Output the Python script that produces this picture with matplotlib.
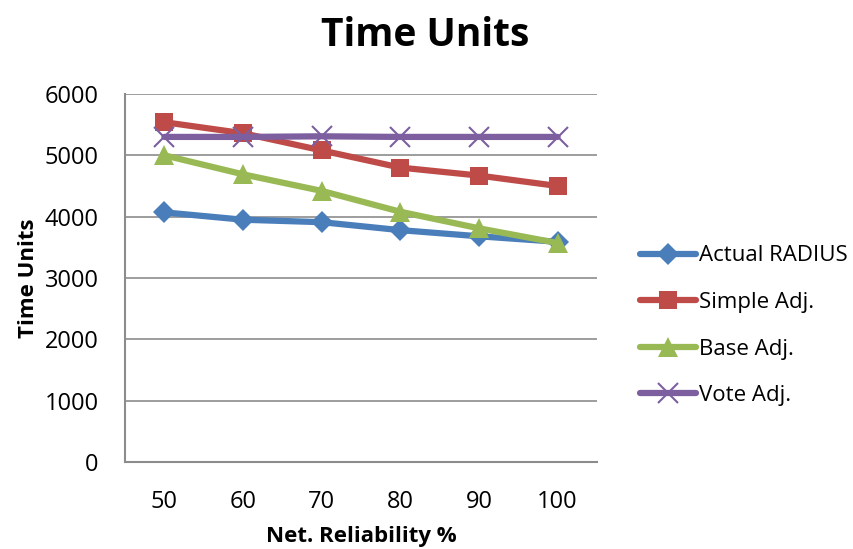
import matplotlib.pyplot as plt

categories = ['50', '60', '70', '80', '90', '100']
actual_radius = [4070, 3950, 3910, 3780, 3680, 3590]
simple_adj = [5540, 5360, 5080, 4800, 4670, 4500]
base_adj = [5000, 4690, 4420, 4080, 3810, 3570]
vote_adj = [5300, 5300, 5310, 5300, 5300, 5300]

plt.rcParams['font.family'] = ['Open Sans', 'DejaVu Sans']

fig = plt.figure(figsize=(8.54, 5.49), dpi=100)
ax = fig.add_axes([0.1464, 0.1585, 0.5526, 0.6703])

x = list(range(len(categories)))
series = [
    ('Actual RADIUS', actual_radius, '#4a7ebb', 'D', 11),
    ('Simple Adj.', simple_adj, '#be4b48', 's', 13),
    ('Base Adj.', base_adj, '#98b954', '^', 14),
    ('Vote Adj.', vote_adj, '#7d5fa0', 'x', 14),
]
for name, vals, col, mk, ms in series:
    ax.plot(x, vals, color=col, lw=4.5, marker=mk, markersize=ms,
            markeredgewidth=1.5 if mk == 'x' else 0, markeredgecolor=col,
            label=name, solid_capstyle='round')

ax.set_xlim(-0.5, len(categories) - 0.5)
ax.set_ylim(0, 6000)
ax.set_yticks(range(0, 6001, 1000))
ax.set_xticks(x)
ax.set_xticklabels(categories)
ax.tick_params(length=0, labelsize=17)
ax.tick_params(axis='y', pad=19)
ax.tick_params(axis='x', pad=20)
ax.grid(axis='y', color='#8c8c8c', lw=1.2)
ax.set_axisbelow(True)
for s in ['top', 'right']:
    ax.spines[s].set_visible(False)
for s in ['left', 'bottom']:
    ax.spines[s].set_color('#8c8c8c')
    ax.spines[s].set_linewidth(1.5)

ax.set_ylabel('Time Units', fontsize=16, fontweight='bold', labelpad=4)
ax.set_xlabel('Net. Reliability %', fontsize=16, fontweight='bold', labelpad=9)
fig.text(0.498, 0.936, 'Time Units', ha='center', va='center',
         fontsize=28, fontweight='bold')

ax.legend(loc='center left', bbox_to_anchor=(1.049, 0.37), frameon=False,
          fontsize=16, handlelength=2.5, handletextpad=0.15, labelspacing=1.15)

fig.savefig('out.png', dpi=100)
